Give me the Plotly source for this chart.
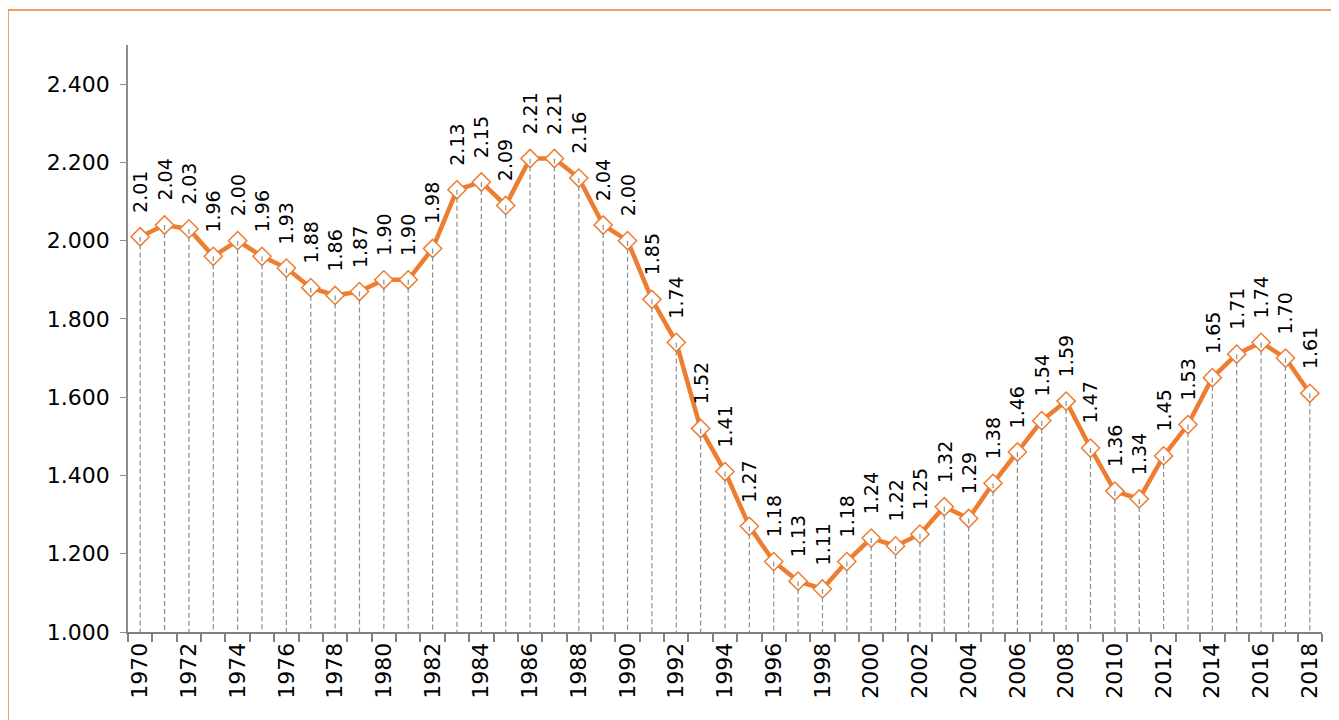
import plotly.graph_objects as go

years = list(range(1970, 2019))
values = [2.01, 2.04, 2.03, 1.96, 2.00, 1.96, 1.93, 1.88, 1.86, 1.87,
          1.90, 1.90, 1.98, 2.13, 2.15, 2.09, 2.21, 2.21, 2.16, 2.04,
          2.00, 1.85, 1.74, 1.52, 1.41, 1.27, 1.18, 1.13, 1.11, 1.18,
          1.24, 1.22, 1.25, 1.32, 1.29, 1.38, 1.46, 1.54, 1.59, 1.47,
          1.36, 1.34, 1.45, 1.53, 1.65, 1.71, 1.74, 1.70, 1.61]
y_ticks = [1.0, 1.2, 1.4, 1.6, 1.8, 2.0, 2.2, 2.4]
x_ticks = list(range(1970, 2019, 2))

ORANGE = "#ED7D31"
FONT = "DejaVu Sans"

fig = go.Figure()

fig.add_trace(go.Scatter(
    x=years, y=values, mode="lines+markers",
    line=dict(color=ORANGE, width=4.5),
    marker=dict(symbol="diamond", size=14, color="white",
                line=dict(color=ORANGE, width=1.5)),
    hoverinfo="x+y", showlegend=False))

dx, dy = [], []
for yr, v in zip(years, values):
    dx += [yr, yr, None]
    dy += [v, 1.0, None]
fig.add_trace(go.Scatter(
    x=dx, y=dy, mode="lines",
    line=dict(color="#8C8C8C", width=1.2, dash="5px,3px"),
    hoverinfo="skip", showlegend=False))

for yr, v in zip(years, values):
    fig.add_annotation(x=yr, y=v, text=f"{v:.2f}", showarrow=False,
                       textangle=-90, yanchor="bottom", yshift=22,
                       font=dict(family=FONT, size=19, color="#000000"))

fig.update_xaxes(
    range=[1969.5, 2018.5], tickvals=x_ticks, ticktext=[str(t) for t in x_ticks],
    tickangle=-90, ticks="", showgrid=False, zeroline=False,
    showline=True, linecolor="#7F7F7F", linewidth=2,
    minor=dict(tick0=1969.5, dtick=1, ticks="outside", ticklen=8,
               tickcolor="#7F7F7F", tickwidth=2, showgrid=False),
    tickfont=dict(family=FONT, size=22, color="#000000"))
fig.update_yaxes(
    range=[1.0, 2.5], tickvals=y_ticks, tickformat=".3f",
    ticks="outside", ticklen=6, tickcolor="#8C8C8C",
    ticklabelstandoff=6,
    showgrid=False, zeroline=False,
    showline=True, linecolor="#8C8C8C", linewidth=1.5,
    tickfont=dict(family=FONT, size=22, color="#000000"))

fig.add_shape(type="rect", xref="paper", yref="paper",
              x0=-0.1005, x1=1.05, y0=-0.25, y1=1.0596,
              line=dict(color=ORANGE, width=1.5), fillcolor="rgba(0,0,0,0)",
              layer="below")

fig.update_layout(
    width=1339, height=720,
    margin=dict(l=120, r=25, t=37, b=96),
    paper_bgcolor="white", plot_bgcolor="white",
    font=dict(family=FONT),
)

fig.write_html("out.html")
